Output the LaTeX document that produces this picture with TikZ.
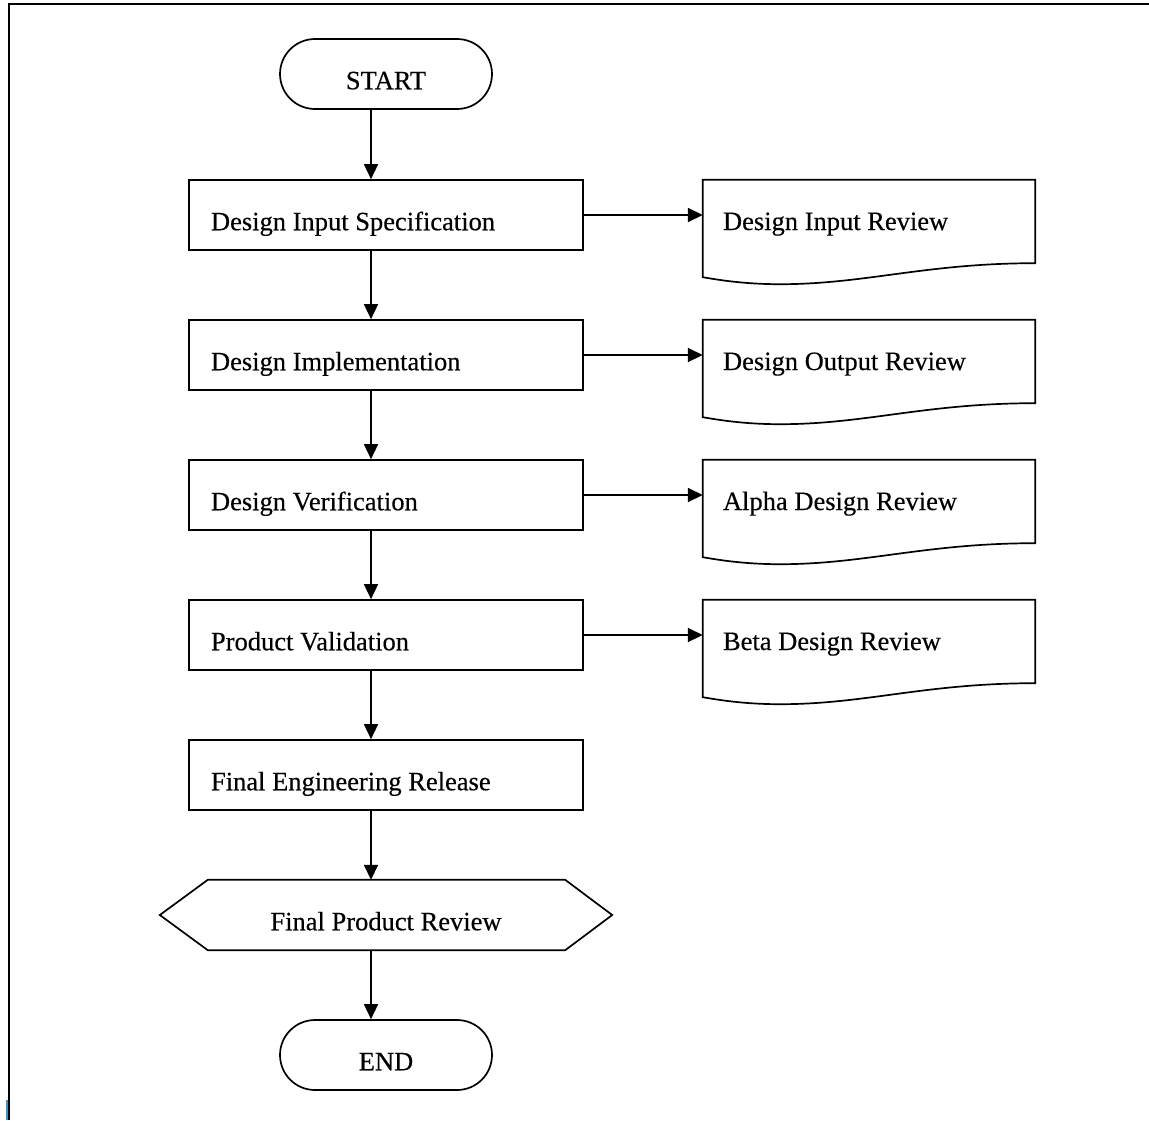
\documentclass[tikz,border=0pt]{standalone}
\usepackage{fontspec}
\setmainfont{Liberation Serif}
\newfontfamily\dfont{Liberation Serif}[FakeBold=0.35]
\usetikzlibrary{arrows.meta,calc}
\definecolor{edgeblue}{HTML}{2A9AD0}
\tikzset{
  ln/.style={line width=1.7pt, draw=black},
  arr/.style={line width=1.7pt, -{Triangle[length=15pt,width=14pt]}},
  lbl/.style={font=\dfont\fontsize{26.5}{29}\selectfont, text depth=0pt},
  lowlbl/.style={lbl, text height=30.5pt},
  procbox/.style={ln, rectangle, lowlbl, minimum height=70pt, text width=350pt, inner xsep=22pt, inner ysep=0pt, align=flush left},
  docbox/.style={rectangle, lbl, text height=17pt, minimum height=83pt, text width=292pt, inner xsep=20pt, inner ysep=0pt, align=flush left},
  termbox/.style={ln, rectangle, lowlbl, rounded corners=35pt, minimum width=212pt, minimum height=70pt, inner ysep=0pt},
  hexbox/.style={rectangle, lowlbl, minimum width=452pt, minimum height=70pt, inner ysep=0pt},
}
\newcommand\docshape[1]{%
  \draw[ln] (#1.north west) -- (#1.north east) -- (#1.south east)
    .. controls ([xshift=-110pt]#1.south east) and ([xshift=-170pt,yshift=-21pt]#1.south east) .. ([xshift=-255pt,yshift=-21pt]#1.south east)
    .. controls ([xshift=-290pt,yshift=-21pt]#1.south east) and ([xshift=-315pt,yshift=-17pt]#1.south east) .. ([yshift=-14pt]#1.south west) -- cycle;}
\begin{document}
\begin{tikzpicture}[x=1pt,y=-1pt]
\useasboundingbox (0,0) rectangle (1149,1120);
% frame
\draw[line width=2.2pt] (9,1120) -- (9,4) -- (1149,4);
\draw[line width=2pt, edgeblue] (7,1100) -- (7,1120);
\coordinate (col) at (371,0);
% terminals
\node[termbox] (start) at (386,74) {START};
\node[termbox] (end) at (386,1055) {END};
% process boxes
\node[procbox] (b1) at (386,215) {Design Input Specification};
\node[procbox] (b2) at (386,355) {Design Implementation};
\node[procbox] (b3) at (386,495) {Design Verification};
\node[procbox] (b4) at (386,635) {Product Validation};
\node[procbox] (b5) at (386,775) {Final Engineering Release};
% hexagon
\node[hexbox] (hx) at (386,915) {Final Product Review};
\draw[ln] (hx.west) -- ([xshift=48pt]hx.north west) -- ([xshift=-47pt]hx.north east) -- (hx.east) -- ([xshift=-47pt]hx.south east) -- ([xshift=48pt]hx.south west) -- cycle;
% documents
\node[docbox] (d1) at (869,221.5) {Design Input Review};
\node[docbox] (d2) at (869,361.5) {Design Output Review};
\node[docbox] (d3) at (869,501.5) {Alpha Design Review};
\node[docbox] (d4) at (869,641.5) {Beta Design Review};
\docshape{d1}\docshape{d2}\docshape{d3}\docshape{d4}
% vertical arrows
\draw[arr] (start.south -| col) -- (b1.north -| col);
\draw[arr] (b1.south -| col) -- (b2.north -| col);
\draw[arr] (b2.south -| col) -- (b3.north -| col);
\draw[arr] (b3.south -| col) -- (b4.north -| col);
\draw[arr] (b4.south -| col) -- (b5.north -| col);
\draw[arr] (b5.south -| col) -- (hx.north -| col);
\draw[arr] (hx.south -| col) -- (end.north -| col);
% horizontal arrows
\draw[arr] (b1.east) -- (b1.east -| d1.west);
\draw[arr] (b2.east) -- (b2.east -| d2.west);
\draw[arr] (b3.east) -- (b3.east -| d3.west);
\draw[arr] (b4.east) -- (b4.east -| d4.west);
\end{tikzpicture}
\end{document}
